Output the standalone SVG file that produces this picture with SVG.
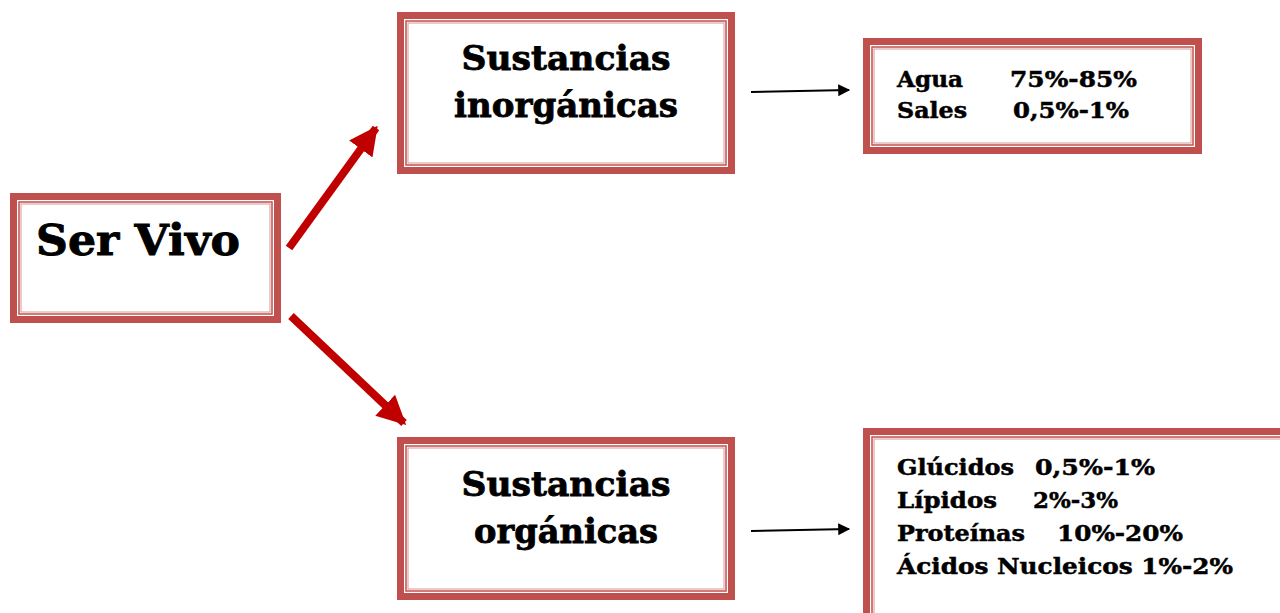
<svg xmlns="http://www.w3.org/2000/svg" width="1280" height="613" viewBox="0 0 1280 613">
<style>
.outer{fill:#fff;stroke:#c0504d;stroke-width:7}
.inner{fill:none;stroke:#c0504d;stroke-width:1.5}
.inner2{fill:none;stroke:#d99694;stroke-width:1}
text{font-family:"DejaVu Serif","Liberation Serif",serif;font-weight:bold;fill:#000;stroke:#000}
.big{font-size:43px;stroke-width:0.9}
.mid{font-size:34px;stroke-width:0.8}
.sm{font-size:23px;stroke-width:0.5}
.red{stroke:#c00000;stroke-width:8;fill:none}
.blk{stroke:#000;stroke-width:2;fill:none}
</style>
<defs>
<marker id="rh" viewBox="0 0 10 10" refX="9" refY="5" markerWidth="3.6" markerHeight="3.6" orient="auto" markerUnits="strokeWidth">
<path d="M0,0 L10,5 L0,10 z" fill="#c00000"/>
</marker>
<marker id="bh" viewBox="0 0 10 10" refX="9" refY="5" markerWidth="7" markerHeight="6" orient="auto" markerUnits="strokeWidth">
<path d="M0,0 L10,5 L0,10 z" fill="#000"/>
</marker>
</defs>
<rect width="1280" height="613" fill="#fff"/>
<g id="connectors">
<line class="red" x1="289" y1="248" x2="376" y2="128" marker-end="url(#rh)"/>
<line class="red" x1="291" y1="316" x2="404" y2="423" marker-end="url(#rh)"/>
<line class="blk" x1="751" y1="92" x2="849" y2="90" marker-end="url(#bh)"/>
<line class="blk" x1="751" y1="531" x2="849" y2="529" marker-end="url(#bh)"/>
</g>
<g id="ser-vivo">
<rect class="outer" x="13.5" y="196.5" width="264" height="123"/>
<rect class="inner" x="19" y="202" width="253" height="112"/>
<rect class="inner2" x="21" y="204" width="249" height="108"/>
<text class="big" x="36" y="255" textLength="204" lengthAdjust="spacingAndGlyphs">Ser Vivo</text>
</g>
<g id="inorganicas">
<rect class="outer" x="400.5" y="15.5" width="331" height="155"/>
<rect class="inner" x="406" y="21" width="320" height="144"/>
<rect class="inner2" x="408" y="23" width="316" height="140"/>
<text class="mid" x="566" y="70" text-anchor="middle" textLength="209" lengthAdjust="spacingAndGlyphs">Sustancias</text>
<text class="mid" x="566" y="117" text-anchor="middle" textLength="224" lengthAdjust="spacingAndGlyphs">inorgánicas</text>
</g>
<g id="organicas">
<rect class="outer" x="400.5" y="440.5" width="331" height="156"/>
<rect class="inner" x="406" y="446" width="320" height="145"/>
<rect class="inner2" x="408" y="448" width="316" height="141"/>
<text class="mid" x="566" y="496" text-anchor="middle" textLength="209" lengthAdjust="spacingAndGlyphs">Sustancias</text>
<text class="mid" x="566" y="543" text-anchor="middle" textLength="184" lengthAdjust="spacingAndGlyphs">orgánicas</text>
</g>
<g id="inorg-list">
<rect class="outer" x="866.5" y="41.5" width="332" height="109"/>
<rect class="inner" x="872" y="47" width="321" height="98"/>
<rect class="inner2" x="874" y="49" width="317" height="94"/>
<text class="sm" x="897" y="87" textLength="66" lengthAdjust="spacingAndGlyphs">Agua</text>
<text class="sm" x="1010" y="87" textLength="127" lengthAdjust="spacingAndGlyphs">75%-85%</text>
<text class="sm" x="897" y="118" textLength="70" lengthAdjust="spacingAndGlyphs">Sales</text>
<text class="sm" x="1013" y="118" textLength="116" lengthAdjust="spacingAndGlyphs">0,5%-1%</text>
</g>
<g id="org-list">
<rect class="outer" x="866.5" y="431.5" width="430" height="200"/>
<rect class="inner" x="872" y="437" width="420" height="190"/>
<rect class="inner2" x="874" y="439" width="416" height="186"/>
<text class="sm" x="897" y="475" textLength="117" lengthAdjust="spacingAndGlyphs">Glúcidos</text>
<text class="sm" x="1035" y="475" textLength="120" lengthAdjust="spacingAndGlyphs">0,5%-1%</text>
<text class="sm" x="897" y="508" textLength="100" lengthAdjust="spacingAndGlyphs">Lípidos</text>
<text class="sm" x="1033" y="508" textLength="85" lengthAdjust="spacingAndGlyphs">2%-3%</text>
<text class="sm" x="897" y="541" textLength="128" lengthAdjust="spacingAndGlyphs">Proteínas</text>
<text class="sm" x="1057" y="541" textLength="126" lengthAdjust="spacingAndGlyphs">10%-20%</text>
<text class="sm" x="897" y="574" textLength="336" lengthAdjust="spacingAndGlyphs">Ácidos Nucleicos 1%-2%</text>
</g>
</svg>
